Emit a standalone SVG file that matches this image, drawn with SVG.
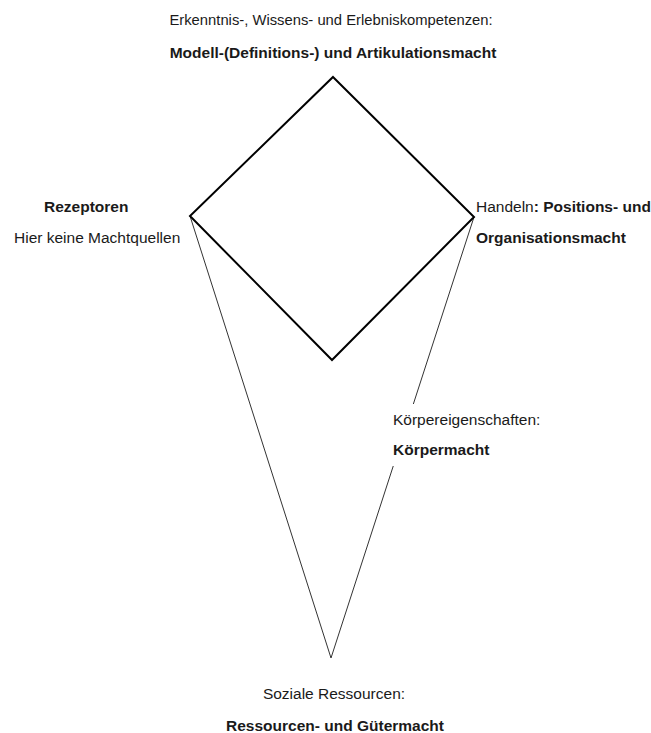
<svg xmlns="http://www.w3.org/2000/svg" width="651" height="733" viewBox="0 0 651 733">
<style>
text{font-family:"Liberation Sans",Arial,sans-serif;font-size:15.5px;fill:#1a1a1a}
.b{font-weight:bold}
.m{text-anchor:middle}
.s{font-size:14.8px}
.thick{fill:none;stroke:#000;stroke-width:2}
.thin{fill:none;stroke:#333;stroke-width:1}
</style>
<rect width="651" height="733" fill="#fff"/>
<g id="connectors">
<path class="thin" d="M190,216 L331,658 L474,217"/>
<path class="thick" d="M333,77 L474,217 L332,360 L190,216 Z"/>
</g>
<g id="top">
<text class="m s" x="331" y="25">Erkenntnis-, Wissens- und Erlebniskompetenzen:</text>
<text class="m b" x="333" y="58">Modell-(Definitions-) und Artikulationsmacht</text>
</g>
<g id="left">
<text class="b" x="44" y="212">Rezeptoren</text>
<text x="14" y="243">Hier keine Machtquellen</text>
</g>
<g id="right">
<text x="476" y="212">Handeln<tspan class="b">: Positions- und</tspan></text>
<text class="b" x="476" y="243">Organisationsmacht</text>
</g>
<g id="body">
<rect x="390" y="404" width="160" height="62" fill="#fff"/>
<text x="393" y="425">Körpereigenschaften:</text>
<text class="b" x="393" y="455">Körpermacht</text>
</g>
<g id="bottom">
<text class="m" x="334" y="699">Soziale Ressourcen:</text>
<text class="m b" x="335" y="731">Ressourcen- und Gütermacht</text>
</g>
</svg>
